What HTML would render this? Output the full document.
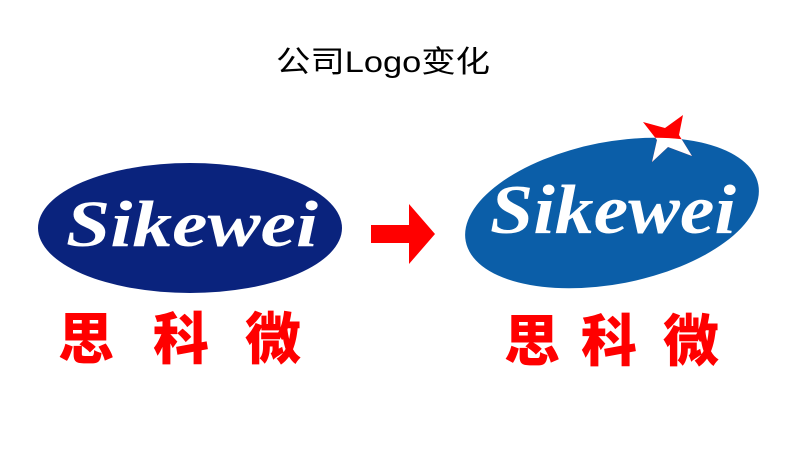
<html><head><style>body{margin:0;background:#fff;width:800px;height:450px;overflow:hidden}</style></head><body>
<svg width="800" height="450" xmlns="http://www.w3.org/2000/svg">
<defs><clipPath id="c"><ellipse cx="612" cy="213" rx="149" ry="71" transform="rotate(-11 612 213)"/></clipPath></defs>
<text x="383" y="72" text-anchor="middle" font-family="Liberation Sans, Noto Sans CJK SC, sans-serif" font-size="30" fill="#000" textLength="214" lengthAdjust="spacingAndGlyphs">公司Logo变化</text>
<ellipse cx="190" cy="228" rx="152" ry="65" fill="#0a237d"/>
<text x="66" y="246" font-family="Liberation Serif, serif" font-weight="bold" font-style="italic" font-size="66" fill="#fff" textLength="252" lengthAdjust="spacingAndGlyphs">Sikewei</text>
<g font-family="Liberation Sans, Noto Sans CJK SC, sans-serif" font-weight="900" font-size="56" fill="#f00">
<text x="58" y="359">思</text><text x="153" y="359">科</text><text x="245" y="359">微</text>
<text x="504" y="361">思</text><text x="581" y="361">科</text><text x="663" y="361">微</text>
</g>
<polygon points="371,225 409,225 409,204 435,234 409,264 409,243 371,243" fill="#f00"/>
<ellipse cx="612" cy="213" rx="149" ry="71" transform="rotate(-11 612 213)" fill="#0b5ea8"/>
<text x="490" y="233" font-family="Liberation Serif, serif" font-weight="bold" font-style="italic" font-size="70" fill="#fff" textLength="246" lengthAdjust="spacingAndGlyphs">Sikewei</text>
<polygon points="683,115 665,128 643,122 657,140 652,162 668,147 692,156 679,135" fill="#f00"/>
<polygon points="683,115 665,128 643,122 657,140 652,162 668,147 692,156 679,135" fill="#fff" clip-path="url(#c)"/>
</svg>
</body></html>
